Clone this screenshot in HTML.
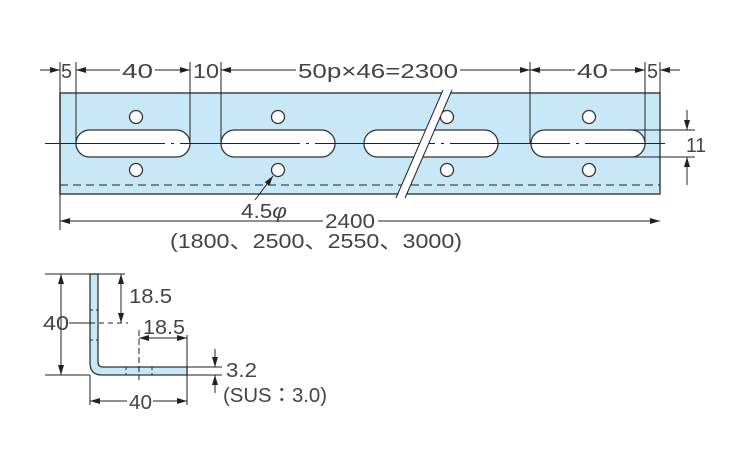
<!DOCTYPE html>
<html><head><meta charset="utf-8"><style>
body{margin:0;background:#fff}
svg{display:block}
text{font-family:"Liberation Sans","Noto Sans CJK JP",sans-serif;fill:#444;font-size:20px}
</style></head><body>
<svg width="750" height="450" viewBox="0 0 750 450">
<defs>
<marker id="a" markerWidth="10" markerHeight="6" refX="10" refY="3" orient="auto-start-reverse" markerUnits="userSpaceOnUse"><path d="M0,0L10,3L0,6z" fill="#222"/></marker>
</defs>
<g stroke="#222" stroke-width="1" fill="none">
<rect x="60" y="93" width="600" height="101" fill="#c8e8f8" stroke="#444" stroke-width="1.5"/>
<line x1="60" y1="185" x2="660" y2="185" stroke-dasharray="8,5"/>
<g fill="#fff" stroke="#333" stroke-width="1.3">
<rect x="76" y="130" width="114" height="27" rx="13.5"/>
<rect x="221" y="130" width="114" height="27" rx="13.5"/>
<rect x="364" y="130" width="134" height="27" rx="13.5"/>
<rect x="531" y="130" width="114" height="27" rx="13.5"/>
<circle cx="136" cy="117" r="6.5"/><circle cx="136" cy="170" r="6.5"/>
<circle cx="278" cy="117" r="6.5"/><circle cx="278" cy="170" r="6.5"/>
<circle cx="447" cy="117" r="6.5"/><circle cx="447" cy="170" r="6.5"/>
<circle cx="589" cy="117" r="6.5"/><circle cx="589" cy="170" r="6.5"/>
</g>
<line x1="45" y1="143.5" x2="665" y2="143.5" stroke-dasharray="120,6,3,6"/>
<polygon points="443,90 452,90 405,198 396,198" fill="#fff" stroke="none"/>
<line x1="443" y1="90" x2="396" y2="198"/><line x1="452" y1="90" x2="405" y2="198"/>
<line x1="60" y1="62" x2="60" y2="230"/><line x1="76" y1="62" x2="76" y2="143"/>
<line x1="190" y1="62" x2="190" y2="143"/><line x1="221" y1="62" x2="221" y2="143"/>
<line x1="530" y1="62" x2="530" y2="143"/><line x1="645" y1="62" x2="645" y2="143"/>
<line x1="660" y1="62" x2="660" y2="93"/>
<line x1="40" y1="70" x2="60" y2="70" marker-end="url(#a)"/>
<line x1="76" y1="70" x2="120" y2="70" marker-start="url(#a)"/>
<line x1="155" y1="70" x2="190" y2="70" marker-end="url(#a)"/>
<line x1="221" y1="70" x2="296" y2="70" marker-start="url(#a)"/>
<line x1="460" y1="70" x2="530" y2="70" marker-end="url(#a)"/>
<line x1="530" y1="70" x2="575" y2="70" marker-start="url(#a)"/>
<line x1="610" y1="70" x2="645" y2="70" marker-end="url(#a)"/>
<line x1="680" y1="70" x2="660" y2="70" marker-end="url(#a)"/>
<line x1="60" y1="221" x2="323" y2="221" marker-start="url(#a)"/>
<line x1="378" y1="221" x2="660" y2="221" marker-end="url(#a)"/>
<line x1="255" y1="200" x2="273" y2="176" marker-end="url(#a)"/>
<line x1="630" y1="130" x2="695" y2="130"/><line x1="630" y1="157" x2="695" y2="157"/>
<line x1="687" y1="110" x2="687" y2="130" marker-end="url(#a)"/>
<line x1="687" y1="185" x2="687" y2="157" marker-end="url(#a)"/>
<path d="M90,274 H98 V362 Q98,367 103,367 H187 V375 H102 Q90,375 90,363 Z" fill="#c8e8f8" stroke="#333" stroke-width="1.3"/>
<line x1="45" y1="274" x2="125" y2="274"/><line x1="45" y1="375" x2="90" y2="375"/>
<line x1="61" y1="274" x2="61" y2="375" marker-start="url(#a)" marker-end="url(#a)"/>
<line x1="69" y1="323" x2="90" y2="323"/>
<line x1="90" y1="323" x2="128" y2="323" stroke-dasharray="5,4"/>
<line x1="90" y1="310" x2="98" y2="310" stroke-dasharray="3,3"/>
<line x1="90" y1="340" x2="98" y2="340" stroke-dasharray="3,3"/>
<line x1="121" y1="274" x2="121" y2="323" marker-start="url(#a)" marker-end="url(#a)"/>
<line x1="139" y1="330" x2="139" y2="380" stroke-dasharray="6,3"/>
<line x1="126" y1="367" x2="126" y2="375" stroke-dasharray="3,3"/>
<line x1="152" y1="367" x2="152" y2="375" stroke-dasharray="3,3"/>
<line x1="187" y1="335" x2="187" y2="405"/><line x1="90" y1="375" x2="90" y2="405"/>
<line x1="139" y1="338" x2="187" y2="338" marker-start="url(#a)" marker-end="url(#a)"/>
<line x1="90" y1="401" x2="127" y2="401" marker-start="url(#a)"/>
<line x1="153" y1="401" x2="187" y2="401" marker-end="url(#a)"/>
<line x1="187" y1="367" x2="222" y2="367"/><line x1="187" y1="375" x2="222" y2="375"/>
<line x1="215" y1="349" x2="215" y2="367" marker-end="url(#a)"/>
<line x1="215" y1="393" x2="215" y2="375" marker-end="url(#a)"/>
</g>
<g lengthAdjust="spacingAndGlyphs">
<text x="61" y="78" textLength="11" lengthAdjust="spacingAndGlyphs">5</text>
<text x="122" y="78" textLength="31" lengthAdjust="spacingAndGlyphs">40</text>
<text x="193" y="78" textLength="26" lengthAdjust="spacingAndGlyphs">10</text>
<text x="298" y="78" textLength="160" lengthAdjust="spacingAndGlyphs">50p×46=2300</text>
<text x="577" y="78" textLength="31" lengthAdjust="spacingAndGlyphs">40</text>
<text x="647" y="78" textLength="11" lengthAdjust="spacingAndGlyphs">5</text>
<text x="325" y="228" textLength="50" lengthAdjust="spacingAndGlyphs">2400</text>
<text x="170" y="248" textLength="292" lengthAdjust="spacingAndGlyphs">(1800、2500、2550、3000)</text>
<text x="241" y="218" textLength="46" lengthAdjust="spacingAndGlyphs">4.5<tspan font-style="italic">φ</tspan></text>
<text x="686" y="152" textLength="20" lengthAdjust="spacingAndGlyphs">11</text>
<text x="43" y="330" textLength="26" lengthAdjust="spacingAndGlyphs">40</text>
<text x="129" y="303" textLength="43" lengthAdjust="spacingAndGlyphs">18.5</text>
<text x="143" y="334" textLength="42" lengthAdjust="spacingAndGlyphs">18.5</text>
<text x="129" y="409" textLength="23" lengthAdjust="spacingAndGlyphs">40</text>
<text x="226" y="377" textLength="31" lengthAdjust="spacingAndGlyphs">3.2</text>
<text x="223" y="402" textLength="104" lengthAdjust="spacingAndGlyphs">(SUS：3.0)</text>
</g>
</svg>
</body></html>
